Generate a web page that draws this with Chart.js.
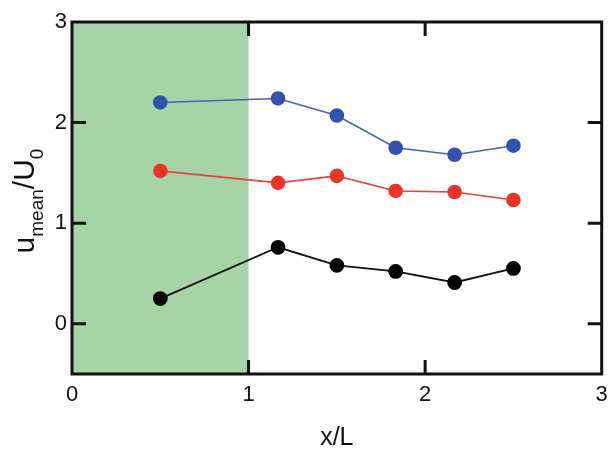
<!DOCTYPE html>
<html>
<head>
<meta charset="utf-8">
<script src="https://cdn.jsdelivr.net/npm/chart.js@4"></script>
<style>
  body { margin: 0; background: #fff; }
  #wrap { width: 610px; height: 451px; position: relative; }
</style>
</head>
<body>
<div id="wrap"><canvas id="velChart"></canvas></div>
<script>
// positions along the channel (x/L)
const xVals = [0.5, 1.167, 1.5, 1.833, 2.167, 2.5];
// u_mean / U_0 for each series
const blueVals = [2.20, 2.24, 2.07, 1.75, 1.68, 1.77];
const redVals = [1.52, 1.40, 1.47, 1.32, 1.31, 1.23];
const blackVals = [0.25, 0.76, 0.58, 0.52, 0.41, 0.55];
// axis ticks
const xTicks = [0, 1, 2, 3];
const yTicks = [0, 1, 2, 3];
// shaded region in x
const shadeRange = [0, 1];

const FONT = "'Liberation Sans', Arial, Helvetica, sans-serif";

const toPoints = (ys) => ys.map((y, i) => ({ x: xVals[i], y: y }));

// green band + frame + inward ticks + axis titles
const framePlugin = {
  id: "frame",
  beforeDatasetsDraw(chart) {
    const { ctx, chartArea: a, scales } = chart;
    const x0 = scales.x.getPixelForValue(shadeRange[0]);
    const x1 = scales.x.getPixelForValue(shadeRange[1]);
    ctx.save();
    ctx.fillStyle = "#a6d4a6";
    ctx.fillRect(x0, a.top, x1 - x0, a.bottom - a.top);
    ctx.restore();
  },
  afterDraw(chart) {
    const { ctx, chartArea: a, scales } = chart;
    const len = 14;
    ctx.save();
    ctx.strokeStyle = "#111";
    ctx.lineWidth = 3;
    ctx.strokeRect(a.left, a.top, a.right - a.left, a.bottom - a.top);

    ctx.beginPath();
    xTicks.forEach((v) => {
      const px = scales.x.getPixelForValue(v);
      if (px <= a.left + 1 || px >= a.right - 1) return;
      ctx.moveTo(px, a.bottom);
      ctx.lineTo(px, a.bottom - len);
      ctx.moveTo(px, a.top);
      ctx.lineTo(px, a.top + len);
    });
    yTicks.forEach((v) => {
      const py = scales.y.getPixelForValue(v);
      if (py <= a.top + 1 || py >= a.bottom - 1) return;
      ctx.moveTo(a.left, py);
      ctx.lineTo(a.left + len, py);
      ctx.moveTo(a.right, py);
      ctx.lineTo(a.right - len, py);
    });
    ctx.stroke();

    // x title
    ctx.fillStyle = "#111";
    ctx.font = "25px " + FONT;
    ctx.textAlign = "center";
    ctx.textBaseline = "alphabetic";
    ctx.fillText("x/L", (a.left + a.right) / 2, 445);

    // y title with subscripts
    const parts = [
      { t: "u", sub: false },
      { t: "mean", sub: true },
      { t: "/U", sub: false },
      { t: "0", sub: true },
    ];
    const bigFont = "30px " + FONT;
    const subFont = "19px " + FONT;
    let total = 0;
    parts.forEach((p) => {
      ctx.font = p.sub ? subFont : bigFont;
      p.w = ctx.measureText(p.t).width;
      total += p.w;
    });
    ctx.translate(34, (a.top + a.bottom) / 2 + 3);
    ctx.rotate(-Math.PI / 2);
    ctx.textAlign = "left";
    let cx = -total / 2;
    parts.forEach((p) => {
      ctx.font = p.sub ? subFont : bigFont;
      ctx.fillText(p.t, cx, p.sub ? 9 : 0);
      cx += p.w;
    });
    ctx.restore();
  },
};

new Chart(document.getElementById("velChart"), {
  type: "line",
  data: {
    datasets: [
      {
        label: "blue",
        data: toPoints(blueVals),
        borderColor: "#4563b6",
        backgroundColor: "#3352ae",
        pointBackgroundColor: "#3352ae",
        pointBorderColor: "#3352ae",
        borderWidth: 1.6,
        pointRadius: 6.5,
      },
      {
        label: "red",
        data: toPoints(redVals),
        borderColor: "#e2453a",
        backgroundColor: "#e8352a",
        pointBackgroundColor: "#e8352a",
        pointBorderColor: "#e8352a",
        borderWidth: 1.6,
        pointRadius: 6.5,
      },
      {
        label: "black",
        data: toPoints(blackVals),
        borderColor: "#111",
        backgroundColor: "#000",
        pointBackgroundColor: "#000",
        pointBorderColor: "#000",
        borderWidth: 1.8,
        pointRadius: 6.5,
      },
    ],
  },
  options: {
    responsive: true,
    maintainAspectRatio: false,
    animation: false,
    layout: { padding: { left: 0, top: 22, right: 7, bottom: 0 } },
    plugins: {
      legend: { display: false },
      tooltip: { enabled: false },
    },
    scales: {
      x: {
        type: "linear",
        min: 0,
        max: 3,
        grid: { display: false, drawTicks: false },
        border: { display: false },
        afterBuildTicks: (s) => { s.ticks = xTicks.map((v) => ({ value: v })); },
        afterFit: (s) => { s.height = 77; s.paddingRight = 0; s.paddingLeft = 0; },
        ticks: {
          color: "#111",
          font: { family: FONT, size: 22 },
          padding: 8,
          maxRotation: 0,
        },
      },
      y: {
        type: "linear",
        min: -0.5,
        max: 3,
        grid: { display: false, drawTicks: false },
        border: { display: false },
        afterBuildTicks: (s) => { s.ticks = yTicks.map((v) => ({ value: v })); },
        afterFit: (s) => { s.width = 72; s.paddingTop = 0; s.paddingBottom = 0; },
        ticks: {
          color: "#111",
          font: { family: FONT, size: 22 },
          padding: 5,
        },
      },
    },
  },
  plugins: [framePlugin],
});
</script>
</body>
</html>
